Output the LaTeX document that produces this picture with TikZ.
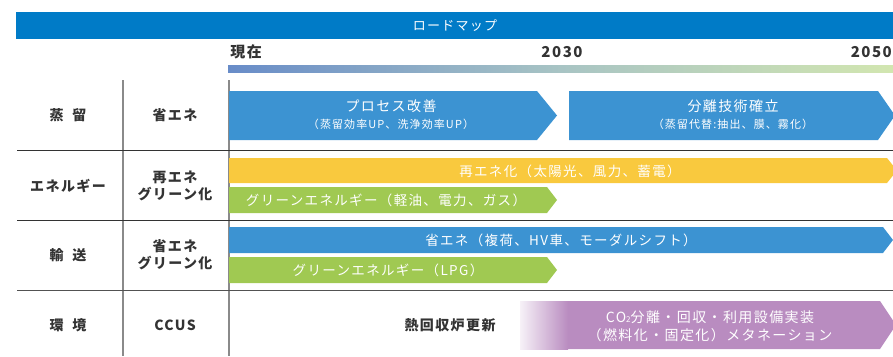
\documentclass[tikz,border=0pt]{standalone}
\usepackage{fontspec}
\setmainfont{Noto Sans CJK JP}[LetterSpace=10]
\newfontfamily\jptight{Noto Sans CJK JP}[LetterSpace=6]
\definecolor{titleblue}{HTML}{007BC7}
\definecolor{arrblue}{HTML}{3C93D2}
\definecolor{arryellow}{HTML}{F9C93E}
\definecolor{arrgreen}{HTML}{A0C952}
\definecolor{arrpurple}{HTML}{B98CC0}
\definecolor{txtdark}{HTML}{333333}
\definecolor{gradL}{HTML}{688CC8}
\definecolor{gradM}{HTML}{A8C4C4}
\definecolor{gradR}{HTML}{D2E6B0}
\definecolor{vline}{HTML}{8A8A8A}
\begin{document}
\begin{tikzpicture}[x=1pt,y=-1pt,
  lbl/.style={text=txtdark,font=\fontsize{14}{16}\selectfont\bfseries,align=center,inner sep=0pt},
  yr/.style={text=txtdark,font=\fontsize{15}{17}\selectfont\bfseries,inner sep=0pt},
  atitle/.style={text=white,font=\fontsize{14}{16}\selectfont,inner sep=0pt},
  asub/.style={text=white,font=\fontsize{11}{13}\selectfont,inner sep=0pt},
  aone/.style={text=white,font=\fontsize{13.5}{15}\selectfont,inner sep=0pt},
  hline/.style={draw=txtdark,line width=1pt},
  vl/.style={draw=vline,line width=1.3pt}]
\useasboundingbox (0,0) rectangle (893,356);
\clip (0,0) rectangle (893,356);
% title bar
\fill[titleblue] (16,12) rectangle (893,38.5);
\node[text=white,font=\fontsize{13}{15}\selectfont,inner sep=0pt] (title) at (455,25.5) {ロードマップ};
% years
\node[yr] (now) at (246,52) {現在};
\node[yr] (y2030) at (562,52) {2030};
\node[yr,anchor=east] (y2050) at (892,52) {2050};
\shade[left color=gradL,right color=gradR,middle color=gradM] (228,65) rectangle (893,72);
% grid lines
\draw[vl] (123,80) -- (123,356);
\draw[vl] (229,80) -- (229,356);
\draw[hline] (17,150) -- (893,150);
\draw[hline] (17,220) -- (893,220);
\draw[hline,draw=txtdark!85] (17,290) -- (893,290);
% row labels
\node[lbl] (r1a) at (68,115) {蒸\hspace{9pt}留};
\node[lbl] (r1b) at (175,115) {省エネ};
\node[lbl] (r2a) at (68,186) {エネルギー};
\node[lbl] (r2b) at (175,186) {再エネ\\[1pt]グリーン化};
\node[lbl] (r3a) at (68,255) {輸\hspace{9pt}送};
\node[lbl] (r3b) at (175,255) {省エネ\\[1pt]グリーン化};
\node[lbl] (r4a) at (68,325) {環\hspace{9pt}境};
\node[lbl] (r4b) at (175,325) {CCUS};
% row 1 arrows
\fill[arrblue] (229,91) -- (537,91) -- (557,115.5) -- (537,140) -- (229,140) -- cycle;
\node[atitle] (a1t) at (391,106) {プロセス改善};
\node[asub] (a1s) at (391,124.5) {（蒸留効率UP、洗浄効率UP）};
\fill[arrblue] (569,91) -- (878,91) -- (895,115.5) -- (878,140) -- (569,140) -- cycle;
\node[atitle] (a2t) at (733,106) {分離技術確立};
\node[asub] (a2s) at (733,124.5) {（蒸留代替:抽出、膜、霧化）};
% row 2 arrows
\fill[arryellow] (229,158) -- (887,158) -- (897,170.5) -- (887,183) -- (229,183) -- cycle;
\node[aone] (a3) at (570,171) {再エネ化（太陽光、風力、蓄電）};
\fill[arrgreen] (229,187) -- (547,187) -- (557,200) -- (547,213) -- (229,213) -- cycle;
\node[aone] (a4) at (386,200) {グリーンエネルギー（軽油、電力、ガス）};
% row 3 arrows
\fill[arrblue] (229,227) -- (883,227) -- (893,240) -- (883,253) -- (229,253) -- cycle;
\node[aone] (a5) at (561,240) {省エネ（複荷、HV車、モーダルシフト）};
\fill[arrgreen] (229,257) -- (547,257) -- (557,270) -- (547,283) -- (229,283) -- cycle;
\node[aone] (a6) at (388,270) {グリーンエネルギー（LPG）};
% row 4
\node[lbl] (heat) at (450,325) {熱回収炉更新};
\fill[arrpurple] (520,301) -- (880,301) -- (896,325) -- (880,349) -- (520,349) -- cycle;
\shade[left color=arrpurple!12,right color=arrpurple] (520,301) rectangle (568,349);
\node[atitle] (a7t) at (710,317) {CO{\fontsize{8}{8}\selectfont 2}分離・回収・利用設備実装};
\node[atitle] (a7s) at (710,335) {（燃料化・固定化）メタネーション};
\end{tikzpicture}
\end{document}
